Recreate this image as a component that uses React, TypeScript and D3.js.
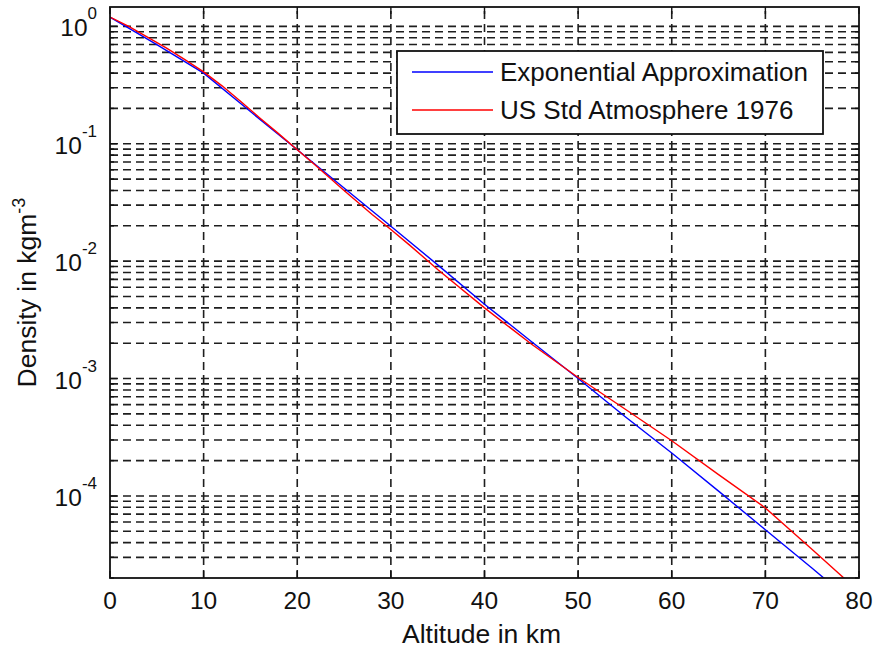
import React from "react";
import * as d3 from "d3";

// Altitude samples (km) and densities (kg/m^3) for each model
const stdAltitude = [0, 2, 4, 6, 8, 10, 12, 14, 16, 18, 20, 22, 25, 28, 30, 32, 35, 40, 45, 50, 55, 60, 65, 70, 75, 80];
const stdDensity = [1.2, 1.0, 0.81, 0.655, 0.52, 0.41, 0.31, 0.228, 0.166, 0.122, 0.089, 0.065, 0.04, 0.025, 0.0186, 0.0137, 0.0085, 0.004, 0.00197, 0.00102, 0.00055, 0.000295, 0.000152, 0.000079, 0.000035, 0.0000153];

const expAltitude = [0, 5, 10, 15, 20, 25, 30, 35, 40, 45, 50, 55, 60, 65, 70, 75, 80];
const expDensity = [1.2, 0.7, 0.4, 0.188, 0.089, 0.042, 0.0198, 0.0093, 0.0043, 0.00207, 0.001, 0.000475, 0.000232, 0.00011, 0.0000515, 0.0000242, 0.0000112];

const xTicks = [0, 10, 20, 30, 40, 50, 60, 70, 80];
const yDecades = [-5, -4, -3, -2, -1, 0];
const legendLabels = ["Exponential Approximation", "US Std Atmosphere 1976"];
const seriesColors = ["#0000ff", "#ff0000"];

const W = 875;
const H = 652;
const left = 110;
const right = 859;
const top = 7;
const bottom = 578;
const FONT = "'Liberation Sans', Arial, Helvetica, sans-serif";
const INK = "#111";

export default function App() {
  const x = d3.scaleLinear().domain([0, 80]).range([left, right]);
  const y = d3.scaleLog().domain([2e-5, Math.pow(10, 0.165)]).range([bottom, top]);

  const line = d3
    .line<[number, number]>()
    .x((d) => x(d[0]))
    .y((d) => y(d[1]));

  const expPts = expAltitude.map((a, i) => [a, expDensity[i]] as [number, number]);
  const stdPts = stdAltitude.map((a, i) => [a, stdDensity[i]] as [number, number]);

  // horizontal grid positions (major decades and 2..9 minors)
  const [yMin, yMax] = y.domain();
  const hLines: { v: number; major: boolean }[] = [];
  yDecades.forEach((e) => {
    for (let m = 1; m <= 9; m++) {
      const v = m * Math.pow(10, e);
      if (v >= yMin * 0.999 && v <= yMax) hLines.push({ v, major: m === 1 });
    }
  });

  const dash = "8 5";
  const gridColor = "#1e1e1e";

  return (
    <svg width={W} height={H} style={{ position: "absolute", left: 0, top: 0, background: "#fff" }}>
      <rect x={0} y={0} width={W} height={H} fill="#fff" />
      <defs>
        <clipPath id="plotClip">
          <rect x={left} y={top} width={right - left} height={bottom - top} />
        </clipPath>
      </defs>

      {/* grid */}
      <g stroke={gridColor} strokeWidth={1.6} strokeDasharray={dash} fill="none">
        {hLines
          .filter((h) => Math.abs(y(h.v) - bottom) > 1)
          .map((h, i) => (
            <line key={"h" + i} x1={left} x2={right} y1={y(h.v)} y2={y(h.v)} />
          ))}
        {xTicks
          .filter((t) => t > 0 && t < 80)
          .map((t) => (
            <line key={"v" + t} x1={x(t)} x2={x(t)} y1={bottom} y2={top} />
          ))}
      </g>

      {/* curves */}
      <g clipPath="url(#plotClip)" fill="none" strokeWidth={1.4}>
        <path d={line(expPts) || ""} stroke={seriesColors[0]} />
        <path d={line(stdPts) || ""} stroke={seriesColors[1]} />
      </g>

      {/* ticks */}
      <g stroke={INK} strokeWidth={1.4}>
        {xTicks.map((t) => (
          <g key={"xt" + t}>
            <line x1={x(t)} x2={x(t)} y1={bottom} y2={bottom - 7} />
            <line x1={x(t)} x2={x(t)} y1={top} y2={top + 7} />
          </g>
        ))}
        {hLines.map((h, i) => {
          const len = h.major ? 7 : 4;
          const yy = y(h.v);
          return (
            <g key={"yt" + i}>
              <line x1={left} x2={left + len} y1={yy} y2={yy} />
              <line x1={right} x2={right - len} y1={yy} y2={yy} />
            </g>
          );
        })}
      </g>

      {/* axes box */}
      <rect x={left} y={top} width={right - left} height={bottom - top} fill="none" stroke={INK} strokeWidth={1.8} />

      {/* x tick labels */}
      <g fontFamily={FONT} fontSize={24.5} fill={INK} textAnchor="middle">
        {xTicks.map((t) => (
          <text key={"xl" + t} x={x(t)} y={609}>
            {t}
          </text>
        ))}
      </g>

      {/* y tick labels */}
      <g fontFamily={FONT} fill={INK} textAnchor="end">
        {yDecades
          .filter((e) => Math.pow(10, e) >= yMin)
          .map((e) => (
            <text key={"yl" + e} x={97} y={y(Math.pow(10, e)) + 10} fontSize={24.5}>
              10
              <tspan dy={-17} fontSize={17}>
                {e}
              </tspan>
            </text>
          ))}
      </g>

      {/* axis titles */}
      <text x={(left + right) / 2 - 3} y={643} fontFamily={FONT} fontSize={26.5} fill={INK} textAnchor="middle">
        Altitude in km
      </text>
      <text
        transform={`translate(36, ${(top + bottom) / 2}) rotate(-90)`}
        fontFamily={FONT}
        fontSize={26.5}
        fill={INK}
        textAnchor="middle"
      >
        Density in kgm
        <tspan dy={-11} fontSize={18}>
          -3
        </tspan>
      </text>

      {/* legend */}
      <g>
        <rect x={397} y={51} width={426} height={83} fill="#fff" stroke={INK} strokeWidth={1.8} />
        {legendLabels.map((lab, i) => {
          const ly = 72 + i * 38;
          return (
            <g key={lab}>
              <line x1={412} x2={493} y1={ly} y2={ly} stroke={seriesColors[i]} strokeWidth={1.4} />
              <text x={500} y={ly + 9} fontFamily={FONT} fontSize={26} fill={INK}>
                {lab}
              </text>
            </g>
          );
        })}
      </g>
    </svg>
  );
}
